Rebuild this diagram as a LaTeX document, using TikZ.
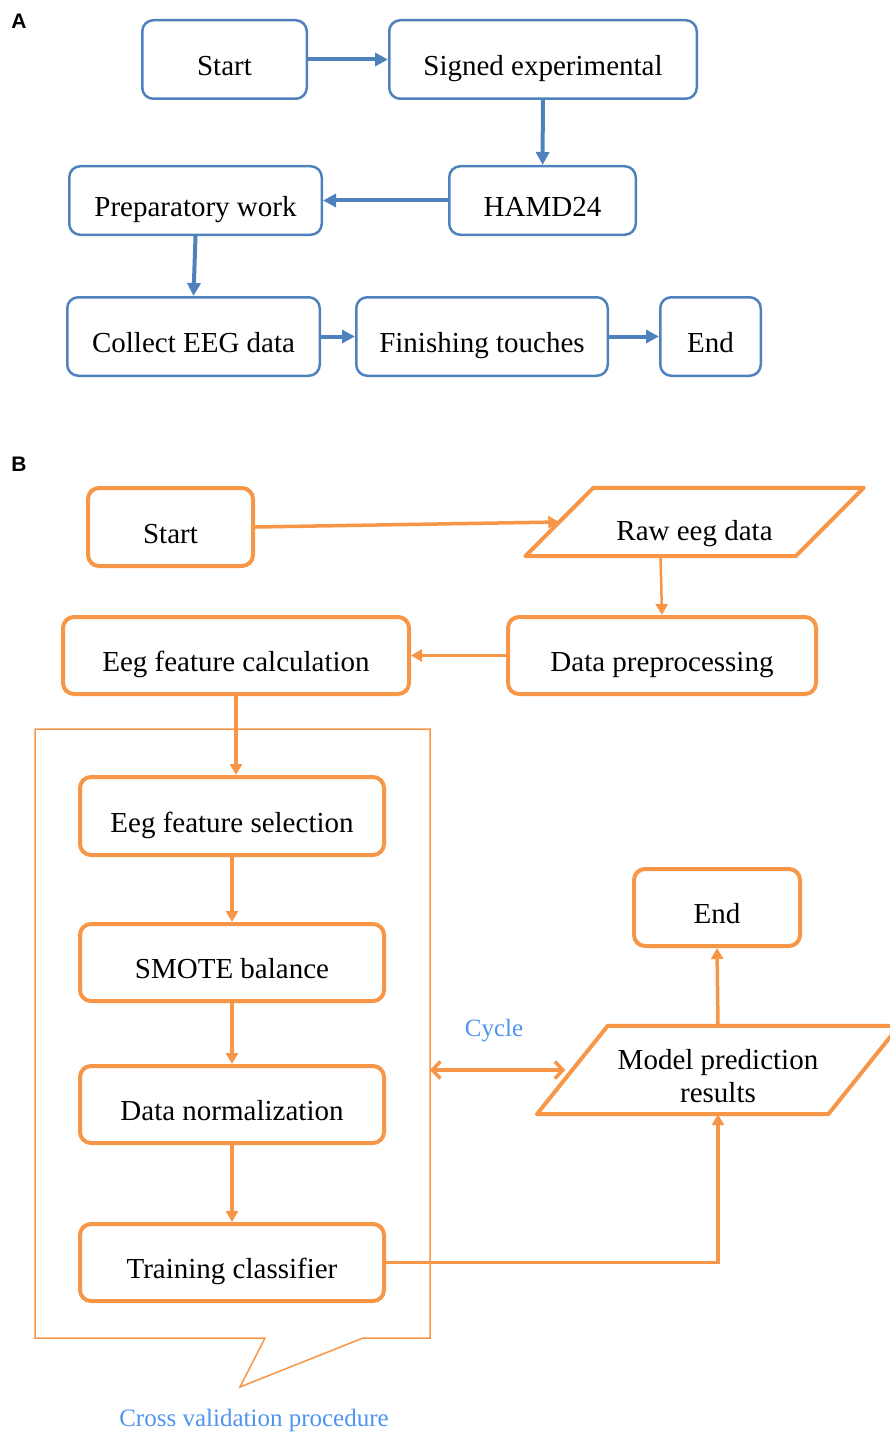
\documentclass[tikz,border=0pt]{standalone}
\usepackage{fontspec}
\setmainfont{Liberation Serif}
\newfontfamily\panelfont{Liberation Sans}
\usetikzlibrary{arrows.meta, positioning}

\definecolor{flowblue}{HTML}{4F81BD}
\definecolor{floworange}{HTML}{F79646}
\definecolor{noteblue}{HTML}{4F94EE}

% slanted input/output outline round a plain node: #1 node, #2 half the slant
\newcommand{\ioframe}[2]{%
  \draw[floworange, line width=4pt, line join=round]
    ([xshift=-#2]#1.south west) -- ([xshift=-#2]#1.south east)
    -- ([xshift=#2]#1.north east) -- ([xshift=#2]#1.north west) -- cycle;}

\begin{document}
\begin{tikzpicture}[x=1pt, y=-1pt, font=\fontsize{29}{33}\selectfont,
    boxtext/.style={text height=32pt, text depth=0pt},
    bluebox/.style={boxtext, draw=flowblue, line width=2.5pt, rounded corners=11pt, minimum height=78.5pt},
    orangebox/.style={boxtext, draw=floworange, line width=4pt, rounded corners=11pt, minimum height=78pt},
    ioshape/.style={align=center, inner sep=0pt},
    bluearrow/.style={draw=flowblue, line width=4pt, -{Triangle[length=13pt, width=13pt]}},
    orangearrow/.style={draw=floworange, line width=3.5pt, -{Triangle[length=11pt, width=12pt]}},
    panel/.style={font=\panelfont\fontsize{21}{23}\selectfont\bfseries},
    note/.style={text=noteblue, font=\fontsize{25}{28}\selectfont}]
  \useasboundingbox (0,0) rectangle (890,1434);

  % part A
  \node[panel] (labA) at (19,21) {A};
  \node[bluebox, minimum width=164.5pt] (startA) at (224.5,59.5) {Start};
  \node[bluebox, minimum width=307.5pt] (signed) at (543,59.5) {Signed experimental};
  \node[bluebox, minimum width=186.5pt, minimum height=68.5pt] (hamd) at (542.5,200.5) {HAMD24};
  \node[bluebox, minimum width=252.5pt, minimum height=68.5pt] (prep) at (195.5,200.5) {Preparatory work};
  \node[bluebox, minimum width=252.5pt] (collect) at (193.5,336.5) {Collect EEG data};
  \node[bluebox, minimum width=251.5pt] (finish) at (482,336.5) {Finishing touches};
  \node[bluebox, minimum width=100.5pt] (endA) at (710.5,336.5) {End};
  \draw[bluearrow] (startA) -- (signed);
  \draw[bluearrow] (signed) -- (hamd);
  \draw[bluearrow] (hamd) -- (prep);
  \draw[bluearrow] (prep.south) -- (collect.north);
  \draw[bluearrow] (collect) -- (finish);
  \draw[bluearrow] (finish) -- (endA);

  % part B
  \node[panel] (labB) at (19,464) {B};
  \draw[floworange, line width=1.5pt] (35,729) -- (430,729) -- (430,1338) -- (363,1338)
    -- (240,1387) -- (265,1338) -- (35,1338) -- cycle;
  \coordinate (cvside) at (430,1070);
  \node[orangebox, minimum width=165pt] (startB) at (170.5,527) {Start};
  \node[ioshape, text height=36pt, text depth=0pt, minimum width=270pt, minimum height=68pt] (raw) at (694.5,522) {Raw eeg data};
  \ioframe{raw}{34pt}
  \node[orangebox, minimum width=308pt, minimum height=77pt] (dataprep) at (662,655.5) {Data preprocessing};
  \node[orangebox, minimum width=346pt, minimum height=77pt] (featcalc) at (236,655.5) {Eeg feature calculation};
  \node[orangebox, minimum width=304pt] (featsel) at (232,816) {Eeg feature selection};
  \node[orangebox, minimum width=304pt, minimum height=77pt] (smote) at (232,962.5) {SMOTE balance};
  \node[orangebox, minimum width=304pt, minimum height=77pt] (norm) at (232,1104.5) {Data normalization};
  \node[orangebox, minimum width=304pt, minimum height=77pt] (train) at (232,1262.5) {Training classifier};
  \node[orangebox, minimum width=166pt, minimum height=77pt] (endB) at (717,907.5) {End};
  \node[ioshape, text height=64pt, text depth=0pt, minimum width=291pt, minimum height=88pt] (model) at (718,1070) {Model prediction\\results};
  \ioframe{model}{35.4pt}
  \node[note] (cycle) at (494,1031) {Cycle};
  \node[note] (cvlabel) at (254,1420) {Cross validation procedure};

  \draw[orangearrow] (startB.east) -- (raw.west);
  \draw[orangearrow, line width=2.5pt] ([xshift=-34pt]raw.south) -- (dataprep.north);
  \draw[orangearrow] (dataprep) -- (featcalc);
  \draw[orangearrow] (featcalc.south) -- (featcalc.south |- featsel.north);
  \draw[orangearrow] (featsel) -- (smote);
  \draw[orangearrow] (smote) -- (norm);
  \draw[orangearrow] (norm) -- (train);
  \draw[orangearrow] (train.east) -| (model.south);
  \draw[orangearrow] (model.north) -- (endB.south);
  \draw[floworange, line width=3.5pt, line cap=round, shorten >=7pt,
        {Straight Barb[length=8pt, width=17pt]}-{Straight Barb[length=8pt, width=17pt]}] (cvside) -- (model.west);
\end{tikzpicture}
\end{document}
